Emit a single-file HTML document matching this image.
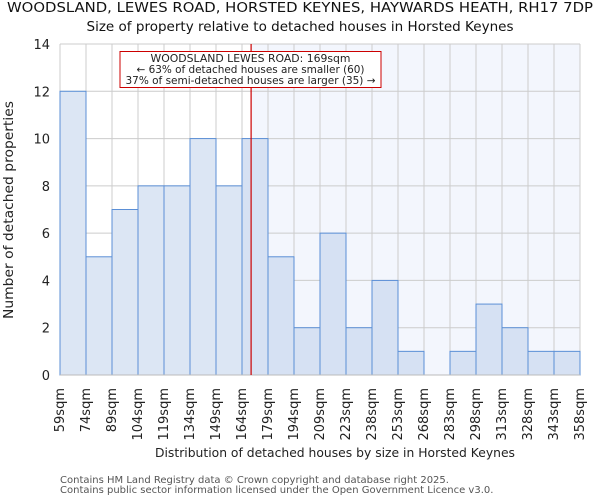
<!DOCTYPE html>
<html><head><meta charset="utf-8"><style>
body{margin:0;background:#fff;font-family:"DejaVu Sans","Liberation Sans",sans-serif}
svg text{font-family:"DejaVu Sans","Liberation Sans",sans-serif}
</style></head><body>
<svg id="c" width="600" height="500" xmlns="http://www.w3.org/2000/svg"></svg>
<script>
const categories=["59sqm","74sqm","89sqm","104sqm","119sqm","134sqm","149sqm","164sqm","179sqm","194sqm","209sqm","223sqm","238sqm","253sqm","268sqm","283sqm","298sqm","313sqm","328sqm","343sqm","358sqm"];
const counts=[12,5,7,8,8,10,8,10,5,2,6,2,4,1,0,1,3,2,1,1];
const yTicks=[0,2,4,6,8,10,12,14];
const markerBin=7.35;
const L=60,R=580,T=44,B=375,yMax=14;
const n=counts.length;
const xs=i=>L+(R-L)*i/n;
const ys=v=>B-(B-T)*v/yMax;
const svg=document.getElementById('c');
const NS='http://www.w3.org/2000/svg';
function mk(tag,attrs,txt){const e=document.createElementNS(NS,tag);for(const k in attrs)e.setAttribute(k,attrs[k]);if(txt!==undefined)e.textContent=txt;svg.appendChild(e);return e;}
const mx=xs(markerBin);
let e;
e=mk('rect',{x:mx,y:T,width:R-mx,height:B-T,fill:'#f3f6fd'});


for(let i=0;i<=n;i++){e=mk('line',{x1:xs(i),x2:xs(i),y1:T,y2:B,stroke:'#cccccc','stroke-width':1});

}
yTicks.forEach(v=>{e=mk('line',{x1:L,x2:R,y1:ys(v),y2:ys(v),stroke:'#cccccc','stroke-width':1});


e=mk('text',{x:L-10,y:ys(v)+5,'text-anchor':'end','font-size':13,fill:'#222'},String(v));

});
counts.forEach((v,i)=>{if(v<=0)return;e=mk('rect',{x:xs(i),y:ys(v),width:xs(i+1)-xs(i),height:B-ys(v),fill:i>=7?'#d6e1f3':'#dce6f4',stroke:'#5b8fd6','stroke-width':1});

});
e=mk('line',{x1:L,x2:R,y1:B,y2:B,stroke:'#bbbbbb','stroke-width':1});


e=mk('line',{x1:mx,x2:mx,y1:T,y2:B,stroke:'#cc0000','stroke-width':1.2});


categories.forEach((c,i)=>{const x=xs(i)+4;e=mk('text',{x:0,y:0,transform:`translate(${x},388) rotate(-90)`,'text-anchor':'end','font-size':13,fill:'#222'},c);

});
e=mk('rect',{x:120,y:51.5,width:261,height:36,fill:'#fff',stroke:'#cc0000','stroke-width':1});


[["WOODSLAND LEWES ROAD: 169sqm",62,200],["← 63% of detached houses are smaller (60)",73,228],["37% of semi-detached houses are larger (35) →",84,250]].forEach(([t,y,w])=>{e=mk('text',{x:250.5,y:y,'text-anchor':'middle','font-size':10.4,fill:'#222',textLength:w,lengthAdjust:'spacingAndGlyphs'},t);

});
e=mk('text',{x:300,y:12,'text-anchor':'middle','font-size':13,fill:'#111',textLength:586,lengthAdjust:'spacingAndGlyphs'},'WOODSLAND, LEWES ROAD, HORSTED KEYNES, HAYWARDS HEATH, RH17 7DP');


e=mk('text',{x:300,y:31,'text-anchor':'middle','font-size':13.5,fill:'#111',textLength:427,lengthAdjust:'spacingAndGlyphs'},'Size of property relative to detached houses in Horsted Keynes');


e=mk('text',{x:0,y:0,transform:'translate(13,210) rotate(-90)','text-anchor':'middle','font-size':13,fill:'#222',textLength:218,lengthAdjust:'spacingAndGlyphs'},'Number of detached properties');


e=mk('text',{x:335,y:457,'text-anchor':'middle','font-size':12.5,fill:'#222',textLength:360,lengthAdjust:'spacingAndGlyphs'},'Distribution of detached houses by size in Horsted Keynes');


e=mk('text',{x:60,y:483,'font-size':10,fill:'#555'},'Contains HM Land Registry data © Crown copyright and database right 2025.');


e=mk('text',{x:60,y:493,'font-size':10,fill:'#555'},'Contains public sector information licensed under the Open Government Licence v3.0.');


</script>
</body></html>
